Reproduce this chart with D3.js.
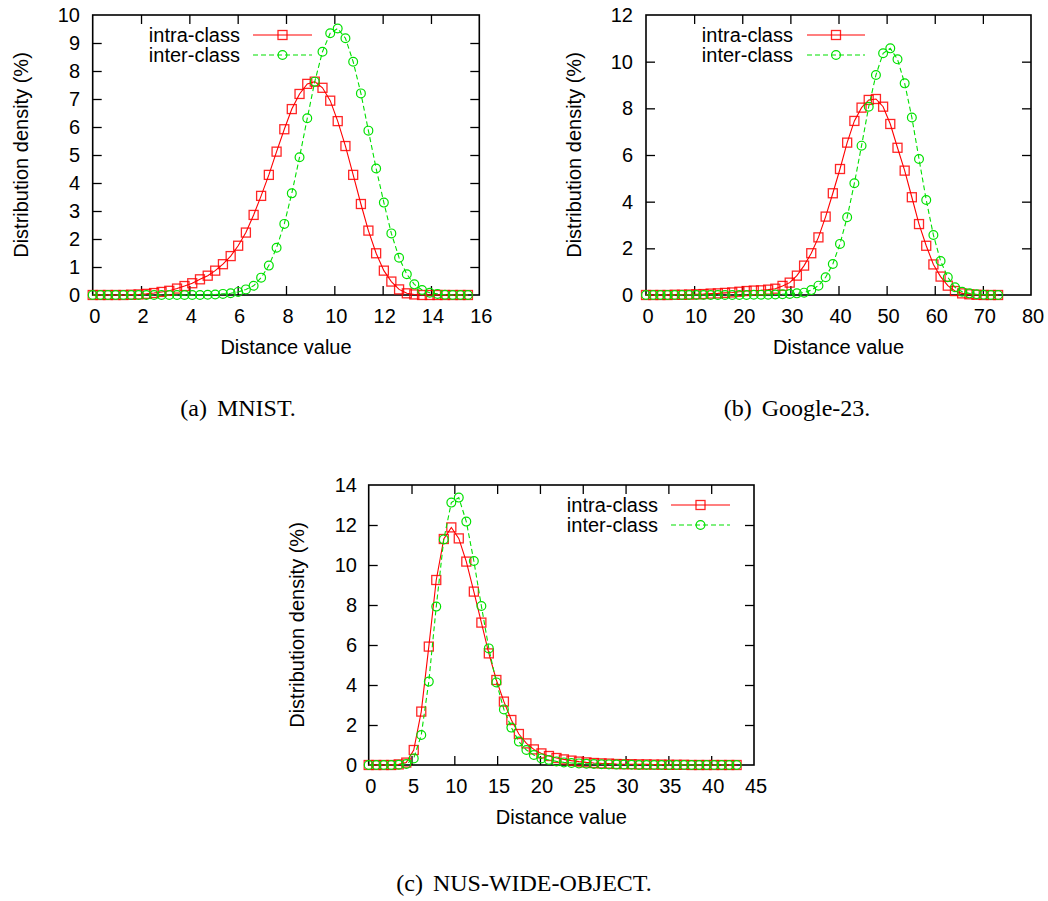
<!DOCTYPE html>
<html>
<head>
<meta charset="utf-8">
<script src="https://cdn.jsdelivr.net/npm/d3@7/dist/d3.min.js"></script>
<style>
  html, body { margin: 0; padding: 0; background: #fff; }
  svg { display: block; }
  .tick-label, .axis-title, .legend-text { font-family: "Liberation Sans", Arial, Helvetica, sans-serif; font-size: 20px; fill: #000; }
  .caption { font-family: "Liberation Serif", "Times New Roman", serif; font-size: 24px; fill: #000; }
</style>
</head>
<body>
<svg id="chart" width="1048" height="901"></svg>
<script>
// ---------------- DATA ----------------
const seriesNames = ["intra-class", "inter-class"];

// (a) MNIST
const mnistX = [0,0.32,0.63,0.95,1.27,1.59,1.90,2.22,2.54,2.85,3.17,3.49,3.80,4.12,4.44,4.76,5.07,5.39,5.71,6.02,6.34,6.66,6.97,7.29,7.61,7.93,8.24,8.56,8.88,9.19,9.51,9.83,10.14,10.46,10.78,11.10,11.41,11.73,12.05,12.36,12.68,13.00,13.31,13.63,13.95,14.27,14.58,14.90,15.22,15.53];
const mnistIntra = [0,0,0,0,0,0.01,0.02,0.04,0.07,0.11,0.15,0.23,0.32,0.42,0.56,0.69,0.87,1.10,1.39,1.76,2.23,2.86,3.54,4.29,5.12,5.92,6.64,7.18,7.54,7.62,7.40,6.94,6.21,5.32,4.29,3.25,2.30,1.49,0.87,0.48,0.20,0.06,0.02,0,0,0,0,0,0,0];
const mnistInter = [0,0,0,0,0,0,0,0,0,0,0,0,0,0,0,0.01,0.02,0.04,0.06,0.11,0.20,0.33,0.62,1.05,1.69,2.54,3.63,4.92,6.31,7.62,8.69,9.35,9.52,9.17,8.33,7.20,5.87,4.52,3.30,2.20,1.33,0.74,0.38,0.18,0.08,0.04,0.01,0,0,0];
const mnistXTicks = [0,2,4,6,8,10,12,14,16];
const mnistYTicks = [0,1,2,3,4,5,6,7,8,9,10];

// (b) Google-23
const googleX = [0,1.49,2.99,4.48,5.97,7.47,8.96,10.45,11.94,13.44,14.93,16.42,17.92,19.41,20.90,22.40,23.89,25.38,26.87,28.37,29.86,31.35,32.85,34.34,35.83,37.33,38.82,40.31,41.80,43.30,44.79,46.28,47.78,49.27,50.76,52.26,53.75,55.24,56.73,58.23,59.72,61.21,62.71,64.20,65.69,67.19,68.68,70.17,71.66,73.16];
const googleIntra = [0,0,0,0,0.01,0.01,0.02,0.03,0.04,0.06,0.07,0.09,0.11,0.14,0.17,0.19,0.20,0.23,0.27,0.39,0.53,0.83,1.26,1.79,2.47,3.36,4.36,5.40,6.53,7.46,8.03,8.36,8.40,8.07,7.33,6.31,5.33,4.19,3.04,2.11,1.31,0.79,0.40,0.17,0.07,0.03,0.01,0,0,0];
const googleInter = [0,0,0,0,0,0,0,0,0,0,0,0,0,0,0,0.01,0.01,0.01,0.02,0.03,0.04,0.07,0.10,0.21,0.40,0.76,1.33,2.19,3.33,4.79,6.40,8.07,9.43,10.36,10.57,10.10,9.07,7.61,5.83,4.07,2.57,1.46,0.76,0.33,0.14,0.07,0.03,0.01,0,0];
const googleXTicks = [0,10,20,30,40,50,60,70,80];
const googleYTicks = [0,2,4,6,8,10,12];

// (c) NUS-WIDE-OBJECT
const nusX = [0,0.88,1.75,2.63,3.51,4.39,5.26,6.14,7.02,7.89,8.77,9.65,10.52,11.40,12.28,13.16,14.03,14.91,15.79,16.66,17.54,18.42,19.29,20.17,21.05,21.93,22.80,23.68,24.56,25.43,26.31,27.19,28.06,28.94,29.82,30.70,31.57,32.45,33.33,34.20,35.08,35.96,36.83,37.71,38.59,39.47,40.34,41.22,42.10,42.97];
const nusIntra = [0,0,0,0,0.03,0.12,0.75,2.67,5.92,9.25,11.30,11.88,11.33,10.17,8.67,7.12,5.58,4.25,3.17,2.25,1.55,1.08,0.78,0.58,0.45,0.35,0.28,0.22,0.17,0.13,0.10,0.08,0.07,0.05,0.04,0.04,0.03,0.03,0.02,0.02,0.01,0.01,0.01,0,0,0,0,0,0,0];
const nusInter = [0,0,0,0,0.01,0.05,0.33,1.50,4.17,7.92,11.28,13.12,13.37,12.17,10.20,7.95,5.83,4.13,2.78,1.87,1.17,0.75,0.50,0.33,0.25,0.18,0.13,0.10,0.08,0.06,0.05,0.04,0.03,0.02,0.02,0.01,0,0,0,0,0,0,0,0,0,0,0,0,0,0];
const nusXTicks = [0,5,10,15,20,25,30,35,40,45];
const nusYTicks = [0,2,4,6,8,10,12,14];

const captionLabels = ["(a)", "(b)", "(c)"];
const captionTexts = ["MNIST.", "Google-23.", "NUS-WIDE-OBJECT."];
const yTitle = "Distribution density (%)";
const xTitle = "Distance value";

// ---------------- DRAWING ----------------
const RED = "#ff0000", GREEN = "#00e000";
const svg = d3.select("#chart");

function drawPanel(p) {
  const g = svg.append("g");
  const x = d3.scaleLinear().domain(p.xDomain).range([p.left, p.right]);
  const y = d3.scaleLinear().domain(p.yDomain).range([p.bottom, p.top]);
  const TL = 9;

  const axB = g.append("g").attr("transform", `translate(0,${p.bottom})`)
    .call(d3.axisBottom(x).tickValues(p.xTicks).tickSize(-TL).tickFormat(""));
  const axT = g.append("g").attr("transform", `translate(0,${p.top})`)
    .call(d3.axisTop(x).tickValues(p.xTicks).tickSize(-TL).tickFormat(""));
  const axL = g.append("g").attr("transform", `translate(${p.left},0)`)
    .call(d3.axisLeft(y).tickValues(p.yTicks).tickSize(-TL).tickFormat(""));
  const axR = g.append("g").attr("transform", `translate(${p.right},0)`)
    .call(d3.axisRight(y).tickValues(p.yTicks).tickSize(-TL).tickFormat(""));
  [axB, axT, axL, axR].forEach(a => {
    a.select(".domain").remove();
    a.selectAll("line").attr("stroke", "#000").attr("stroke-width", 1.3);
  });
  [axB, axT].forEach(a => a.selectAll(".tick").filter(d => d <= p.xDomain[0] || d >= p.xDomain[1]).remove());
  [axL, axR].forEach(a => a.selectAll(".tick").filter(d => d <= p.yDomain[0] || d >= p.yDomain[1]).remove());

  // tick labels
  g.selectAll(".xl").data(p.xTicks).enter().append("text")
    .attr("class", "tick-label").attr("text-anchor", "middle")
    .attr("x", d => x(d) + 2).attr("y", p.bottom + 28).text(d => d);
  g.selectAll(".yl").data(p.yTicks).enter().append("text")
    .attr("class", "tick-label").attr("text-anchor", "end")
    .attr("x", p.yLabelRight).attr("y", d => y(d) + 7).text(d => d);

  // titles
  g.append("text").attr("class", "axis-title").attr("text-anchor", "middle")
    .attr("x", (p.left + p.right) / 2).attr("y", p.bottom + 59).text(xTitle);
  g.append("text").attr("class", "axis-title").attr("text-anchor", "middle")
    .attr("transform", `translate(${p.yTitleX + 7},${(p.top + p.bottom) / 2}) rotate(-90)`)
    .text(yTitle);

  // border
  g.append("rect").attr("x", p.left).attr("y", p.top)
    .attr("width", p.right - p.left).attr("height", p.bottom - p.top)
    .attr("fill", "none").attr("stroke", "#000").attr("stroke-width", 1.6);

  const line = d3.line().x(d => x(d[0])).y(d => y(d[1]));
  const redPts = p.xs.map((v, i) => [v, p.intra[i]]);
  const grnPts = p.xs.map((v, i) => [v, p.inter[i]]);
  const S = 9, R = 4.4;

  g.append("path").datum(redPts).attr("d", line)
    .attr("fill", "none").attr("stroke", RED).attr("stroke-width", 1.1);
  g.selectAll(".sq").data(redPts).enter().append("rect")
    .attr("x", d => x(d[0]) - S / 2).attr("y", d => y(d[1]) - S / 2)
    .attr("width", S).attr("height", S)
    .attr("fill", "none").attr("stroke", RED).attr("stroke-width", 1.3).attr("stroke-opacity", 0.85);

  g.append("path").datum(grnPts).attr("d", line)
    .attr("fill", "none").attr("stroke", GREEN).attr("stroke-width", 1.1)
    .attr("stroke-dasharray", "5,3");
  g.selectAll(".ci").data(grnPts).enter().append("circle")
    .attr("cx", d => x(d[0])).attr("cy", d => y(d[1])).attr("r", R)
    .attr("fill", "none").attr("stroke", GREEN).attr("stroke-width", 1.2);

  // legend
  const ly = [p.legendY, p.legendY + 20];
  seriesNames.forEach((name, i) => {
    g.append("text").attr("class", "legend-text").attr("text-anchor", "end")
      .attr("x", p.legTextRight).attr("y", ly[i] + 7).text(name);
    const l = g.append("line").attr("x1", p.legX1).attr("x2", p.legX2)
      .attr("y1", ly[i]).attr("y2", ly[i])
      .attr("stroke", i === 0 ? RED : GREEN).attr("stroke-width", 1.1);
    if (i === 1) l.attr("stroke-dasharray", "5,3");
    const mx = (p.legX1 + p.legX2) / 2;
    if (i === 0) {
      g.append("rect").attr("x", mx - S / 2).attr("y", ly[i] - S / 2).attr("width", S).attr("height", S)
        .attr("fill", "none").attr("stroke", RED).attr("stroke-width", 1.3).attr("stroke-opacity", 0.85);
    } else {
      g.append("circle").attr("cx", mx).attr("cy", ly[i]).attr("r", R)
        .attr("fill", "none").attr("stroke", GREEN).attr("stroke-width", 1.2);
    }
  });

  // caption
  const cap = g.append("text").attr("class", "caption").attr("text-anchor", "middle")
    .attr("x", p.capX).attr("y", p.capY);
  cap.append("tspan").text(p.capLabel);
  cap.append("tspan").attr("dx", 10).text(p.capText);
}

drawPanel({
  xs: mnistX, intra: mnistIntra, inter: mnistInter,
  xDomain: [0, 16], yDomain: [0, 10], xTicks: mnistXTicks, yTicks: mnistYTicks,
  left: 92.7, right: 479.3, top: 15, bottom: 295,
  yLabelRight: 80, yTitleX: 21,
  legTextRight: 240, legX1: 253, legX2: 312, legendY: 35,
  capLabel: captionLabels[0], capText: captionTexts[0], capX: 238, capY: 416
});
drawPanel({
  xs: googleX, intra: googleIntra, inter: googleInter,
  xDomain: [0, 80], yDomain: [0, 12], xTicks: googleXTicks, yTicks: googleYTicks,
  left: 646, right: 1031, top: 15, bottom: 295,
  yLabelRight: 633, yTitleX: 574,
  legTextRight: 793, legX1: 807, legX2: 865, legendY: 35,
  capLabel: captionLabels[1], capText: captionTexts[1], capX: 797, capY: 416
});
drawPanel({
  xs: nusX, intra: nusIntra, inter: nusInter,
  xDomain: [0, 45], yDomain: [0, 14], xTicks: nusXTicks, yTicks: nusYTicks,
  left: 368.7, right: 754, top: 485, bottom: 765,
  yLabelRight: 357, yTitleX: 297,
  legTextRight: 658, legX1: 671, legX2: 730, legendY: 505,
  capLabel: captionLabels[2], capText: captionTexts[2], capX: 524, capY: 891
});
</script>
</body>
</html>
